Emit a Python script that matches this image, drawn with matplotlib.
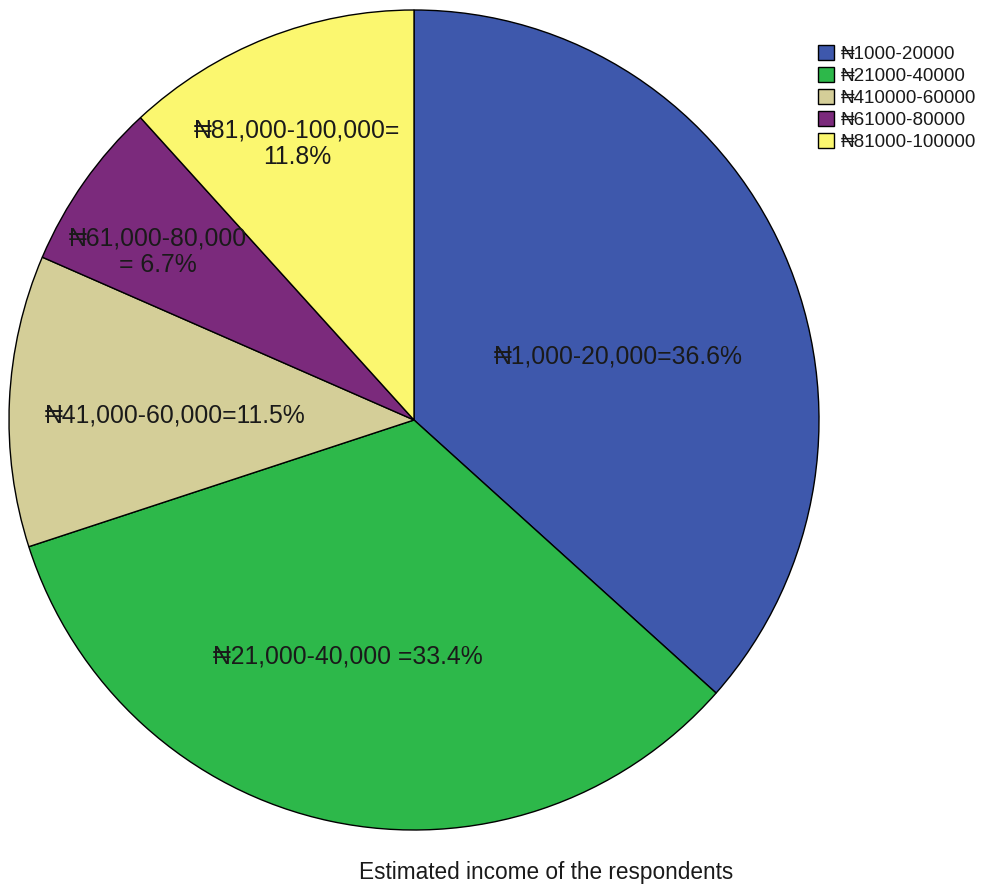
import matplotlib.pyplot as plt

plt.rcParams['font.family'] = ['Liberation Sans', 'DejaVu Sans']

# income groups and share of respondents (%)
groups = ['₦1000-20000', '₦21000-40000', '₦410000-60000', '₦61000-80000', '₦81000-100000']
shares = [36.6, 33.4, 11.5, 6.7, 11.8]
slice_labels = ['₦1,000-20,000=36.6%', '₦21,000-40,000 =33.4%', '₦41,000-60,000=11.5%',
                '₦61,000-80,000\n= 6.7%', '₦81,000-100,000=\n11.8%']
colors = ['#3e58ac', '#2db84a', '#d4ce98', '#7b2a7c', '#fbf76f']

# where each slice label sits, in axes data units
label_xy = [(0.504, 0.156), (-0.163, -0.578), (-0.590, 0.010), (-0.632, 0.410), (-0.289, 0.674)]

fig = plt.figure(figsize=(9.81, 8.90), dpi=100)
ax = fig.add_axes([9 / 981, 60 / 890, 810 / 981, 820 / 890])

wedges, _ = ax.pie(shares, colors=colors, startangle=90, counterclock=False,
                   wedgeprops=dict(edgecolor='black', linewidth=1))
ax.set_xlim(-1, 1)
ax.set_ylim(-1, 1)
ax.set_aspect('auto')
ax.axis('off')

for (x, y), txt in zip(label_xy, slice_labels):
    ax.text(x, y, txt, ha='center', va='center', fontsize=17.8, color='#1a1a1a', linespacing=1.1)

leg = fig.legend(wedges, groups, loc='upper left', bbox_to_anchor=(818 / 981, 1 - 45 / 890),
                 frameon=False, fontsize=13.6, handlelength=0.85, handleheight=0.85,
                 handletextpad=0.35, labelspacing=0.21, borderaxespad=0, borderpad=0)
for t in leg.get_texts():
    t.set_color('#1a1a1a')

fig.text(546 / 981, 1 - 873 / 890, 'Estimated income of the respondents',
         ha='center', va='center', fontsize=16.3, color='#1a1a1a')

fig.savefig('out.png', dpi=100)
